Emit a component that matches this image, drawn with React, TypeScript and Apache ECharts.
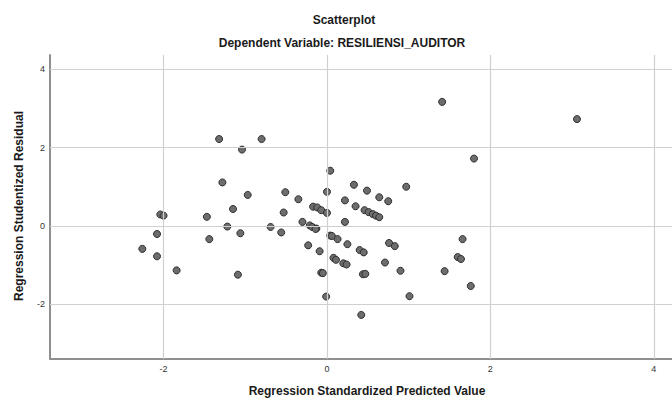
import React, { useEffect, useRef } from "react";
import * as echarts from "echarts";

const titleText = "Scatterplot";
const subtitleText = "Dependent Variable: RESILIENSI_AUDITOR";
const xAxisTitle = "Regression Standardized Predicted Value";
const yAxisTitle = "Regression Studentized Residual";

const tickValues = [-2, 0, 2, 4];

const predicted = [
  -1.32, -0.8, -1.04, 0.04, -1.28, -0.51, 0.0, 0.33, 0.49, 0.97,
  -0.97, -0.35, 0.64, 0.75, 0.22, -1.15, -1.47, -0.53, -0.17, -0.12,
  -0.07, 0.0, 0.35, 0.46, 0.51, 0.56, 0.6, 0.64, 0.22, -0.3,
  -1.22, -0.69, -0.21, -0.18, -0.13, -0.14, -1.44, -1.06, -0.56, 0.04,
  0.06, 0.13, -0.23, -0.09, 0.25, 0.4, 0.45, 0.76, 0.83, 0.08,
  0.11, 0.2, 0.24, 0.71, 0.9, -0.07, -0.05, -1.09, 0.44, 0.47,
  -0.01, 1.01, 0.42, 1.41, 3.06, 1.8, 1.66, 1.6, 1.64, 1.44,
  1.76, -2.04, -2.0, -2.08, -2.26, -2.08, -1.84,
];

const residual = [
  2.22, 2.22, 1.95, 1.41, 1.11, 0.86, 0.87, 1.05, 0.9, 1.0,
  0.79, 0.68, 0.73, 0.63, 0.65, 0.43, 0.23, 0.34, 0.49, 0.47,
  0.4, 0.33, 0.5, 0.4, 0.35, 0.3, 0.26, 0.22, 0.1, 0.1,
  -0.02, -0.03, 0.01, -0.03, -0.07, -0.08, -0.34, -0.19, -0.17, -0.25,
  -0.26, -0.34, -0.5, -0.65, -0.47, -0.62, -0.68, -0.44, -0.52, -0.82,
  -0.87, -0.96, -0.99, -0.94, -1.15, -1.2, -1.21, -1.25, -1.24, -1.23,
  -1.81, -1.8, -2.28, 3.17, 2.73, 1.72, -0.34, -0.8, -0.85, -1.16,
  -1.54, 0.29, 0.26, -0.21, -0.59, -0.78, -1.14,
];

const FONT = "'Liberation Sans', Arial, sans-serif";

export default function App() {
  const ref = useRef<HTMLDivElement>(null);

  useEffect(() => {
    if (!ref.current) return;
    const chart = echarts.init(ref.current, null, { renderer: "svg" });
    const points = predicted.map((x, i) => [x, residual[i]]);
    const gridLines = [
      ...tickValues.map((v) => ({ xAxis: v })),
      ...tickValues.map((v) => ({ yAxis: v })),
    ];
    chart.setOption({
      animation: false,
      backgroundColor: "#ffffff",
      grid: { left: 50, right: 16, top: 55, bottom: 39.3, containLabel: false },
      xAxis: {
        type: "value",
        min: -3.39,
        max: 4.37,
        splitLine: { show: false },
        axisTick: { show: false },
        axisLine: { show: true, onZero: false, lineStyle: { color: "#8f8f8f", width: 2 } },
        axisLabel: {
          customValues: tickValues,
          color: "#333333",
          fontSize: 9,
          fontFamily: FONT,
          margin: 6,
          formatter: (v: number) => String(v),
        },
      },
      yAxis: {
        type: "value",
        min: -3.4,
        max: 4.37,
        splitLine: { show: false },
        axisTick: { show: false },
        axisLine: { show: true, onZero: false, lineStyle: { color: "#8f8f8f", width: 2 } },
        axisLabel: {
          customValues: tickValues,
          color: "#333333",
          fontSize: 9,
          fontFamily: FONT,
          margin: 5,
          formatter: (v: number) => String(v),
        },
      },
      series: [
        {
          type: "scatter",
          data: [],
          z: 1,
          silent: true,
          markLine: {
            silent: true,
            symbol: "none",
            label: { show: false },
            lineStyle: { color: "#d0d0d0", width: 1.2, type: "solid" },
            emphasis: { disabled: true },
            data: gridLines,
          },
        },
        {
          type: "scatter",
          z: 3,
          symbol: "circle",
          symbolSize: 7,
          itemStyle: { color: "#6d6d6d", borderColor: "#2e2e2e", borderWidth: 1, opacity: 1 },
          data: points,
        },
      ],
      graphic: [
        {
          type: "text",
          x: 344,
          y: 20,
          style: {
            text: titleText,
            font: `bold 12px ${FONT}`,
            fill: "#1a1a1a",
            textAlign: "center",
            textVerticalAlign: "middle",
          },
        },
        {
          type: "text",
          x: 342,
          y: 43,
          style: {
            text: subtitleText,
            font: `bold 12px ${FONT}`,
            fill: "#1a1a1a",
            textAlign: "center",
            textVerticalAlign: "middle",
          },
        },
        {
          type: "text",
          x: 367,
          y: 391,
          style: {
            text: xAxisTitle,
            font: `bold 12px ${FONT}`,
            fill: "#1a1a1a",
            textAlign: "center",
            textVerticalAlign: "middle",
          },
        },
        {
          type: "text",
          x: 19,
          y: 206,
          rotation: Math.PI / 2,
          style: {
            text: yAxisTitle,
            font: `bold 12px ${FONT}`,
            fill: "#1a1a1a",
            textAlign: "center",
            textVerticalAlign: "middle",
          },
        },
      ],
    });
    return () => chart.dispose();
  }, []);

  return (
    <div
      style={{
        position: "absolute",
        left: 0,
        top: 0,
        width: 672,
        height: 398,
        overflow: "hidden",
      }}
    >
      <div ref={ref} style={{ width: 700, height: 398 }} />
    </div>
  );
}
